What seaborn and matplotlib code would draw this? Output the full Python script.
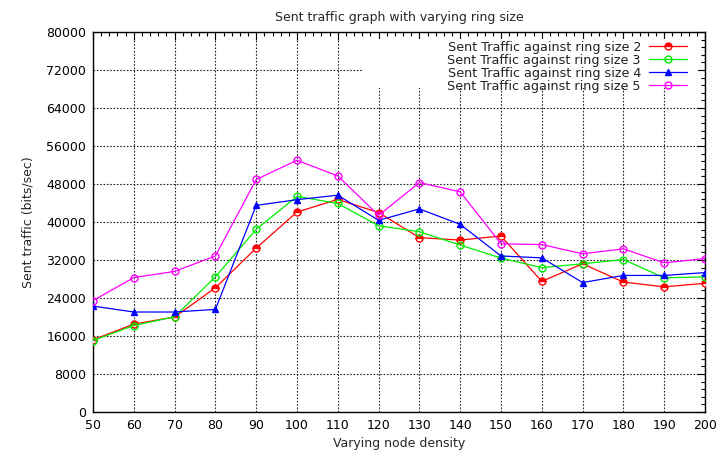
import numpy as np
import pandas as pd
import seaborn as sns
import matplotlib
matplotlib.use("Agg")
import matplotlib.pyplot as plt
from matplotlib.ticker import MultipleLocator
from matplotlib.patches import Rectangle

node_density = [50, 60, 70, 80, 90, 100, 110, 120, 130, 140, 150, 160, 170, 180, 190, 200]
ring2 = [15200, 18500, 20000, 26150, 34500, 42100, 44750, 42000, 36700, 36200, 37050, 27500, 31200, 27350, 26350, 27100]
ring3 = [15050, 18200, 20050, 28450, 38450, 45400, 43900, 39200, 37950, 35150, 32400, 30400, 31200, 32100, 28250, 28450]
ring4 = [22300, 21050, 21050, 21600, 43500, 44700, 45650, 40350, 42750, 39500, 32850, 32450, 27250, 28750, 28750, 29350]
ring5 = [23450, 28300, 29600, 32850, 48950, 53000, 49700, 41400, 48300, 46350, 35400, 35250, 33300, 34350, 31400, 32300]

labels = ["Sent Traffic against ring size 2", "Sent Traffic against ring size 3",
          "Sent Traffic against ring size 4", "Sent Traffic against ring size 5"]
series = [ring2, ring3, ring4, ring5]

sns.set_theme(style="white")
plt.rcParams['font.family'] = ['DejaVu Sans']

fig = plt.figure(figsize=(7.17, 4.55), dpi=100)
ax = fig.add_axes([93/717, 1-412/455, (705-93)/717, (412-32)/455])

styles = [
    dict(color="#ff0000", marker="o", markerfacecolor="#ff0000", markeredgecolor="#ff0000", fillstyle="top", markerfacecoloralt="white", markersize=5),
    dict(color="#00ee00", marker="o", markerfacecolor="none", markeredgecolor="#00ee00", markersize=5),
    dict(color="#0000ff", marker="^", markerfacecolor="#0000ff", markeredgecolor="#0000ff", markersize=4.5),
    dict(color="#ff00ff", marker="o", markerfacecolor="none", markeredgecolor="#ff00ff", markersize=5),
]

for vals, lab, st in zip(series, labels, styles):
    df = pd.DataFrame({"x": node_density, "y": vals})
    sns.lineplot(data=df, x="x", y="y", ax=ax, label=lab, linewidth=0.9,
                 markeredgewidth=1.0, zorder=3, **st)

ax.set_xlim(50, 200)
ax.set_ylim(0, 80000)
ax.xaxis.set_major_locator(MultipleLocator(10))
ax.xaxis.set_minor_locator(MultipleLocator(2))
ax.yaxis.set_major_locator(MultipleLocator(8000))
ax.yaxis.set_minor_locator(MultipleLocator(1600))
ax.tick_params(which="both", direction="in", top=True, right=True, labelsize=9, colors="black")
ax.tick_params(which="major", length=6, width=0.8, pad=5)
ax.tick_params(which="minor", length=3, width=0.8)
ax.grid(True, which="major", color="black", linestyle=(0, (1.5, 1.5)), linewidth=0.8, alpha=0.85)
ax.set_axisbelow(True)
for sp in ax.spines.values():
    sp.set_color("black")
    sp.set_linewidth(1.0)

# white legend background (gnuplot key box), inset so border ticks stay visible
ax.add_patch(Rectangle((0.441, 0.853), 0.547, 0.129, transform=ax.transAxes,
                       facecolor="white", edgecolor="none", zorder=1))

ax.set_title("Sent traffic graph with varying ring size", fontsize=9, pad=8)
ax.set_xlabel("Varying node density", fontsize=9, labelpad=4)
ax.set_ylabel("Sent traffic (bits/sec)", fontsize=9, labelpad=8)

leg = ax.legend(loc="upper right", bbox_to_anchor=(0.985, 1.0), markerfirst=False, frameon=False,
                fontsize=9.2, labelspacing=0.0, handlelength=3.0, borderpad=0.2, handletextpad=0.6)
for t in leg.get_texts():
    t.set_color("#222222")

fig.savefig("out.png", dpi=100)
